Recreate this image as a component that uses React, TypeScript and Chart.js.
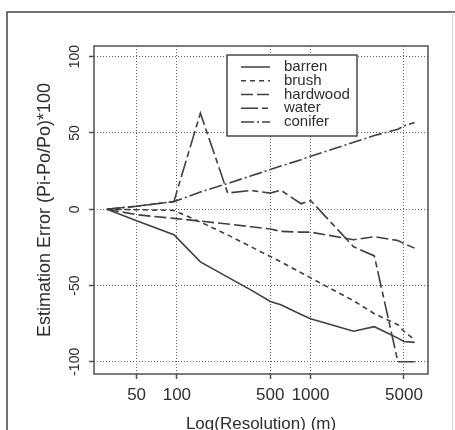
import React, { useEffect, useRef } from 'react';
import { Chart, registerables } from 'chart.js';

Chart.register(...registerables);

const resolutions = [30, 50, 95, 150, 240, 360, 500, 600, 850, 1000, 2100, 3000, 4500, 5000, 6000];
const barren = [0, -7.5, -16.7, -34.5, -44.5, -53, -60.5, -62.6, -69, -71.8, -80, -77, -84.5, -86.7, -87.3];
const brush = [0, -0.3, -0.8, -8.4, -16.8, -24.7, -31, -34.5, -41.6, -45, -60, -68.5, -75.7, -80, -85.6];
const hardwood = [0, -3.6, -6, -7.8, -9.7, -11.5, -13, -14.5, -15, -15, -20, -18, -20.5, -22.5, -25.5];
const water = [0, 2, 5, 63, 10.6, 12.3, 10.6, 12.5, 3.6, 5.8, -24.6, -30.6, -100, -100, -100];
const conifer = [0, 2, 5, 11.3, 16.9, 21.9, 26, 28.3, 32.5, 34.7, 43.9, 48.3, 52.4, 54.6, 56.8];

const seriesNames = ['barren', 'brush', 'hardwood', 'water', 'conifer'];
const seriesValues = [barren, brush, hardwood, water, conifer];
const seriesDashes: number[][] = [[], [5, 4], [12, 4], [17, 4, 6, 4], [13, 3, 2, 3]];

const xTicks = [50, 100, 500, 1000, 5000];
const yTicks = [-100, -50, 0, 50, 100];

const FONT = "'Liberation Sans', Arial, Helvetica, sans-serif";
const LINE_COLOR = '#404040';

const decorPlugin = {
  id: 'decor',
  beforeDraw(chart: any) {
    const { ctx, width, height } = chart;
    ctx.save();
    ctx.fillStyle = '#ffffff';
    ctx.fillRect(0, 0, width, height);
    ctx.restore();
  },
  afterDraw(chart: any) {
    const { ctx, chartArea: a } = chart;
    ctx.save();
    // plot frame
    ctx.strokeStyle = '#505050';
    ctx.lineWidth = 1.5;
    ctx.setLineDash([]);
    ctx.strokeRect(a.left, a.top, a.right - a.left, a.bottom - a.top);
    // outer page frame
    ctx.strokeStyle = '#444444';
    ctx.lineWidth = 1.5;
    ctx.beginPath();
    ctx.moveTo(7, 430);
    ctx.lineTo(7, 12);
    ctx.lineTo(455, 12);
    ctx.stroke();
    ctx.strokeStyle = '#d0d0d0';
    ctx.lineWidth = 1;
    ctx.beginPath();
    ctx.moveTo(452.5, 12);
    ctx.lineTo(452.5, 430);
    ctx.stroke();

    // legend
    const bx = a.left + 133;
    const by = a.top + 9;
    const bw = 130;
    const bh = 81;
    ctx.fillStyle = '#ffffff';
    ctx.fillRect(bx, by, bw, bh);
    ctx.strokeStyle = '#4a4a4a';
    ctx.lineWidth = 1.5;
    ctx.strokeRect(bx, by, bw, bh);
    ctx.font = `15px ${FONT}`;
    ctx.textBaseline = 'middle';
    ctx.textAlign = 'left';
    chart.data.datasets.forEach((ds: any, i: number) => {
      const yy = by + 12 + i * 13.75;
      ctx.strokeStyle = LINE_COLOR;
      ctx.lineWidth = 1.5;
      ctx.setLineDash(ds.borderDash || []);
      ctx.beginPath();
      ctx.moveTo(bx + 14, yy);
      ctx.lineTo(bx + 43, yy);
      ctx.stroke();
      ctx.setLineDash([]);
      ctx.fillStyle = '#2e2e2e';
      ctx.fillText(ds.label, bx + 57, yy);
    });
    ctx.restore();
  },
};

export default function App() {
  const canvasRef = useRef<HTMLCanvasElement | null>(null);

  useEffect(() => {
    document.body.style.margin = '0';
    const canvas = canvasRef.current;
    if (!canvas) return;

    const datasets = seriesNames.map((name, i) => ({
      label: name,
      data: resolutions.map((r, j) => ({ x: r, y: seriesValues[i][j] })),
      borderColor: LINE_COLOR,
      backgroundColor: LINE_COLOR,
      borderWidth: 1.6,
      borderDash: seriesDashes[i],
      pointRadius: 0,
      showLine: true,
      tension: 0,
      fill: false,
    }));

    const chart = new Chart(canvas, {
      type: 'scatter',
      data: { datasets },
      plugins: [decorPlugin],
      options: {
        animation: false,
        responsive: false,
        devicePixelRatio: 1,
        layout: { padding: { left: 0, right: 27, top: 46, bottom: 0 } },
        plugins: {
          legend: { display: false },
          tooltip: { enabled: false },
        },
        scales: {
          x: {
            type: 'logarithmic',
            min: 24,
            max: 7560,
            afterFit: (s: any) => {
              s.height = 56;
            },
            afterBuildTicks: (s: any) => {
              s.ticks = xTicks.map((v) => ({ value: v }));
            },
            ticks: {
              autoSkip: false,
              maxRotation: 0,
              minRotation: 0,
              padding: 6,
              color: '#2e2e2e',
              font: { family: FONT, size: 17 },
              callback: (v: any) => String(v),
            },
            grid: {
              color: '#606060',
              lineWidth: 1,
              drawTicks: true,
              tickLength: 5,
              tickColor: '#505050',
              tickWidth: 1.5,
              tickBorderDash: [],
            },
            border: { display: false, dash: [1, 2] },
            title: {
              display: true,
              text: 'Log(Resolution) (m)',
              color: '#2e2e2e',
              font: { family: FONT, size: 17 },
              padding: { top: 0, bottom: -5 },
            },
          },
          y: {
            type: 'linear',
            min: -108,
            max: 107,
            afterFit: (s: any) => {
              s.width = 94;
            },
            afterBuildTicks: (s: any) => {
              s.ticks = yTicks.map((v) => ({ value: v }));
            },
            ticks: {
              autoSkip: false,
              minRotation: 90,
              maxRotation: 90,
              crossAlign: 'center',
              padding: 0,
              color: '#2e2e2e',
              font: { family: FONT, size: 14 },
              callback: (v: any) => String(v),
            },
            grid: {
              color: '#606060',
              lineWidth: 1,
              drawTicks: true,
              tickLength: 5,
              tickColor: '#505050',
              tickWidth: 1.5,
              tickBorderDash: [],
            },
            border: { display: false, dash: [1, 2] },
            title: {
              display: true,
              text: 'Estimation Error (Pi-Po/Po)*100',
              color: '#2e2e2e',
              font: { family: FONT, size: 18 },
              padding: { top: 34, bottom: 0 },
            },
          },
        },
      } as any,
    });

    return () => {
      chart.destroy();
    };
  }, []);

  return (
    <div style={{ width: 455, height: 430 }}>
      <canvas ref={canvasRef} width={455} height={430} style={{ width: 455, height: 430, display: 'block' }} />
    </div>
  );
}
